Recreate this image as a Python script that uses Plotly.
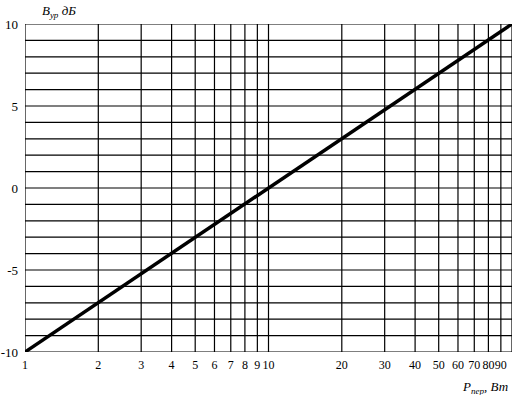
import plotly.graph_objects as go

# Data
power_w = [1, 100]
level_db = [-10, 10]

x_tick_vals = [1, 2, 3, 4, 5, 6, 7, 8, 9, 10, 20, 30, 40, 50, 60, 70, 80, 90]
x_tick_text = ["1", "2", "3", "4", "5", "6", "7", "8", "9", "10",
               "20", "30", "40", "50", "60", "70", "80", "90"]
x_grid_vals = [1, 2, 3, 4, 5, 6, 7, 8, 9, 10, 20, 30, 40, 50, 60, 70, 80, 90, 100]
y_tick_vals = [-10, -5, 0, 5, 10]
y_tick_text = ["-10", "-5", "0", "5", "10"]
y_grid_vals = list(range(-10, 11))

FONT = "Liberation Serif"

fig = go.Figure()
fig.add_trace(go.Scatter(x=power_w, y=level_db, mode="lines",
                         line=dict(color="black", width=3.5), showlegend=False,
                         cliponaxis=False))

shapes = []
for v in x_grid_vals:
    shapes.append(dict(type="line", xref="x", yref="paper", x0=v, x1=v, y0=0, y1=1,
                       line=dict(color="black", width=1.2), layer="below"))
for v in y_grid_vals:
    shapes.append(dict(type="line", xref="paper", yref="y", x0=0, x1=1, y0=v, y1=v,
                       line=dict(color="black", width=1.2), layer="below"))

fig.update_layout(
    width=516, height=395,
    margin=dict(l=25, r=4, t=24, b=43),
    paper_bgcolor="white", plot_bgcolor="white",
    font=dict(family=FONT, size=13, color="black"),
    shapes=shapes,
    xaxis=dict(type="log", range=[0, 2], tickvals=x_tick_vals, ticktext=x_tick_text,
               showgrid=False, zeroline=False, showline=False, ticks="",
               tickangle=0, tickfont=dict(size=12), automargin=False,
               ticklabelstandoff=4),
    yaxis=dict(range=[-10, 10], tickvals=y_tick_vals, ticktext=y_tick_text,
               showgrid=False, zeroline=False,
               showline=False, ticks="", automargin=False, ticklabelstandoff=6,
               tickfont=dict(size=13)),
    annotations=[
        dict(text="<i>В<sub>ур</sub> дБ</i>", xref="paper", yref="paper", x=0.03, y=1.005,
             xanchor="left", yanchor="bottom", showarrow=False,
             font=dict(family=FONT, size=13)),
        dict(text="<i>P<sub>пер</sub>, Вт</i>", xref="paper", yref="paper", x=0.995, y=-0.075,
             xanchor="right", yanchor="top", showarrow=False,
             font=dict(family=FONT, size=13)),
    ],
)

fig.write_html(
    "out.html",
    config={"displayModeBar": False},
    post_script="document.body.style.margin='0';document.body.style.overflow='hidden';",
)
